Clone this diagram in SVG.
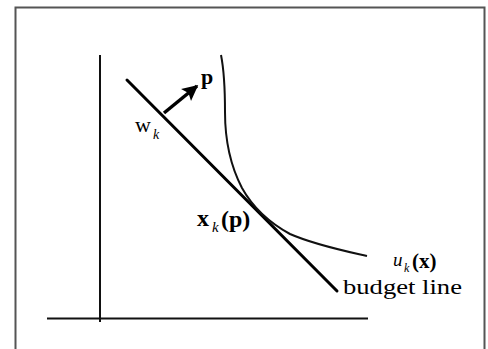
<svg xmlns="http://www.w3.org/2000/svg" width="488" height="349" viewBox="0 0 488 349">
<style>
.ax{stroke:#111;stroke-width:2;fill:none}
.ln{stroke:#000;stroke-width:3;fill:none;stroke-linecap:round}
.cv{stroke:#111;stroke-width:2;fill:none}
.t{font-family:"Liberation Serif",serif;fill:#000}
.b{font-weight:bold}
.i{font-style:italic}
</style>
<defs>
<marker id="ah" viewBox="0 0 10 10" refX="9" refY="5" markerWidth="6" markerHeight="4.5" orient="auto" markerUnits="strokeWidth">
<path d="M0,0 L10,5 L0,10 L2,5 Z" fill="#000"/>
</marker>
</defs>
<rect x="0" y="0" width="488" height="349" fill="#fff"/>
<path d="M15.5,352 V7.5 H484.5 V352" fill="none" stroke="#555" stroke-width="2"/>
<g id="axes">
<line class="ax" x1="100" y1="55" x2="100" y2="322"/>
<line class="ax" x1="47" y1="318.5" x2="368" y2="318.5"/>
</g>
<g id="connectors">
<line id="budget-line" class="ln" x1="127" y1="80" x2="337" y2="291"/>
<path id="indifference-curve" class="cv" d="M221,55 C224,70 225,90 225,112 C225,140 230,165 242,188 C252,206 268,222 290,234 C315,245 345,251 367,256"/>
<line id="price-arrow" stroke="#000" stroke-width="3.5" x1="164" y1="113" x2="197" y2="86" marker-end="url(#ah)"/>
</g>
<g id="label-p"><text class="t b" x="201" y="84" font-size="22">p</text></g>
<g id="label-w"><text class="t" x="135" y="132" font-size="22">w</text><text class="t i" x="153" y="139" font-size="14">k</text></g>
<g id="label-x"><text class="t b" x="197" y="226" font-size="24">x</text><text class="t i" x="212" y="232" font-size="15">k</text><text class="t b" x="221" y="227" font-size="24">(p)</text></g>
<g id="label-u"><text class="t i" x="393" y="266" font-size="19">u</text><text class="t i" x="404" y="272" font-size="12">k</text><text class="t b" x="412" y="268" font-size="21">(x)</text></g>
<g id="label-budget"><text class="t" x="343" y="294" font-size="20" textLength="119" lengthAdjust="spacingAndGlyphs">budget line</text></g>
</svg>
